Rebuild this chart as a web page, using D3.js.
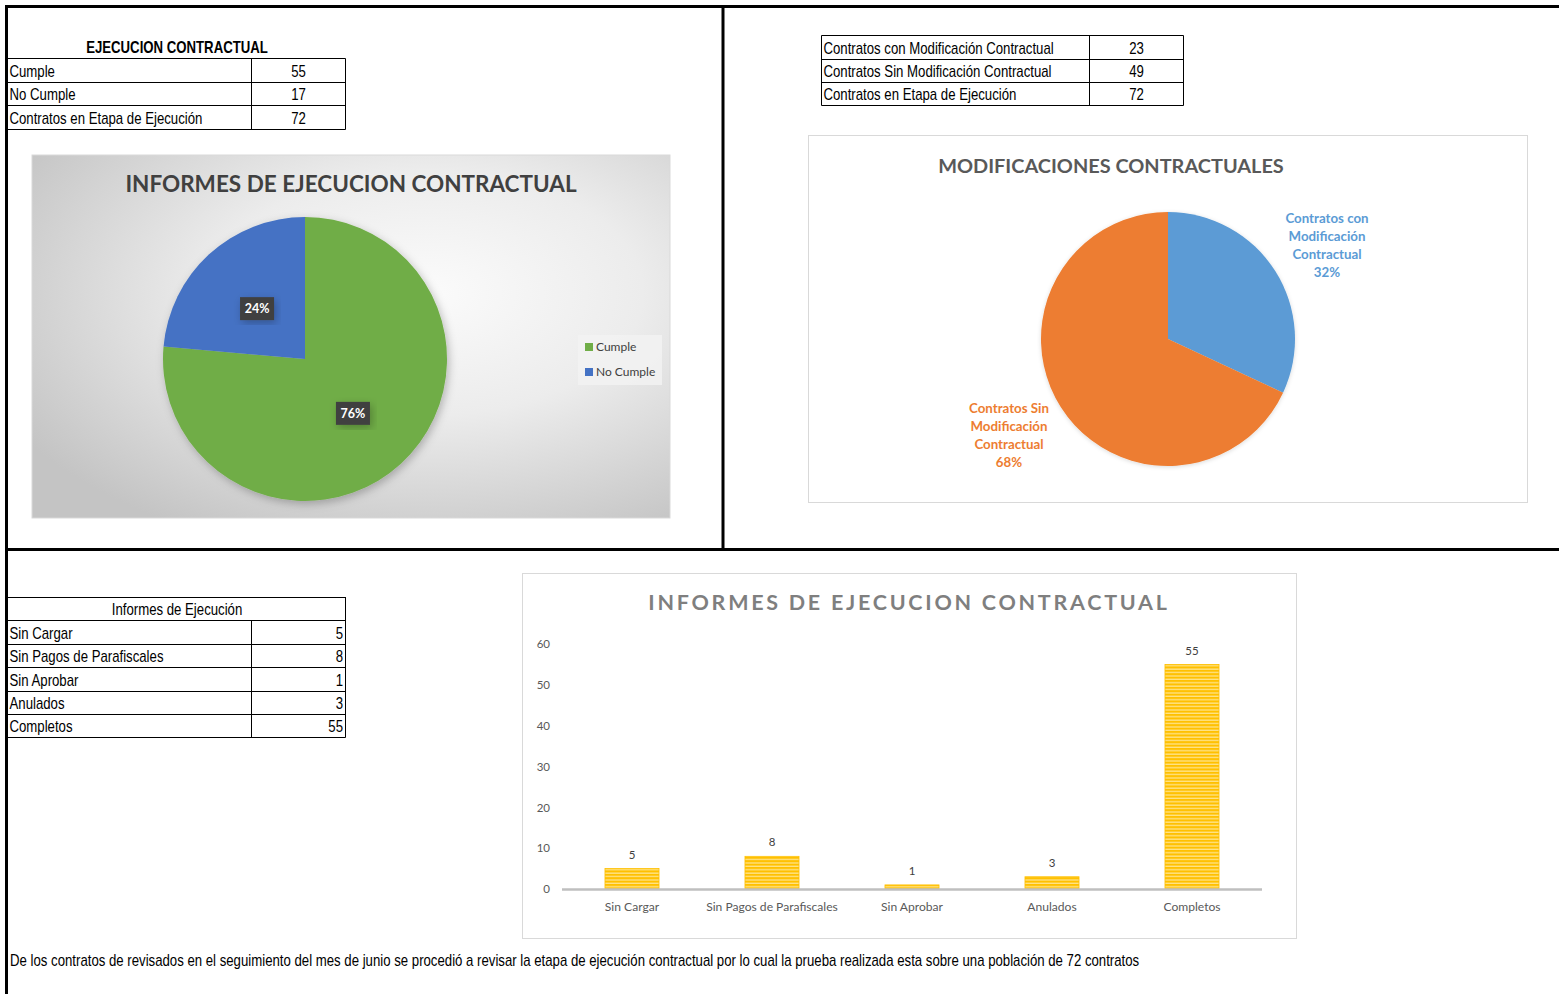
<!DOCTYPE html>
<html>
<head>
<meta charset="utf-8">
<script src="https://cdn.jsdelivr.net/npm/d3@7"></script>
<style>
  html, body { margin: 0; padding: 0; background: #ffffff; }
  svg { display: block; }
  .narrow { font-family: "Liberation Sans", Arial, sans-serif; }
  .cal { font-family: Lato, "Open Sans", "Noto Sans", sans-serif; }
</style>
</head>
<body>
<svg id="page" width="1559" height="994"></svg>
<script>
// ---------------- DATA ----------------
const ejecTitle = "EJECUCION CONTRACTUAL";
const ejecRows = ["Cumple", "No Cumple", "Contratos en Etapa de Ejecución"];
const ejecRowValues = [55, 17, 72];
const ejecLabels = ["Cumple", "No Cumple"];
const ejecValues = [55, 17];

const modRows = ["Contratos con Modificación Contractual", "Contratos Sin Modificación Contractual", "Contratos en Etapa de Ejecución"];
const modRowValues = [23, 49, 72];
const modLabels = [["Contratos con", "Modificación", "Contractual"], ["Contratos Sin", "Modificación", "Contractual"]];
const modValues = [23, 49];

const infTitle = "Informes de Ejecución";
const infCategories = ["Sin Cargar", "Sin Pagos de Parafiscales", "Sin Aprobar", "Anulados", "Completos"];
const infValues = [5, 8, 1, 3, 55];
const yTicks = [0, 10, 20, 30, 40, 50, 60];

const footerText = "De los contratos de revisados en el seguimiento del mes de junio se procedió a revisar la etapa de ejecución contractual por lo cual la prueba realizada esta sobre una población de 72 contratos";

const chartTitle1 = "INFORMES DE EJECUCION CONTRACTUAL";
const chartTitle2 = "MODIFICACIONES CONTRACTUALES";
const chartTitle3 = "INFORMES DE EJECUCION CONTRACTUAL";

// ---------------- PAGE ----------------
const svg = d3.select("#page");
const defs = svg.append("defs");

// condensed text (emulates Arial Narrow)
const NARROW = 0.825, NFS = 16;
function narrowText(g, x, y, str, anchor, bold) {
  return g.append("text").attr("class", "narrow")
    .attr("transform", `translate(${x},${y + 0.5}) scale(${NARROW},1)`)
    .attr("dy", "0.36em").attr("font-size", NFS).attr("fill", "#000")
    .attr("text-anchor", anchor || "start").attr("font-weight", bold ? "bold" : null)
    .text(str);
}

// page frame lines
const frame = svg.append("g").attr("stroke", "#000").attr("stroke-width", 3);
frame.append("line").attr("x1", 5).attr("x2", 1559).attr("y1", 6.5).attr("y2", 6.5);
frame.append("line").attr("x1", 6.5).attr("x2", 6.5).attr("y1", 5).attr("y2", 994);
frame.append("line").attr("x1", 723).attr("x2", 723).attr("y1", 6).attr("y2", 550);
frame.append("line").attr("x1", 6).attr("x2", 1559).attr("y1", 549.5).attr("y2", 549.5);

// ---------------- TABLE helper ----------------
function drawTable(g, x0, x1, xDiv, yRows, rows, values, valueAlign) {
  const t = g.append("g");
  const n = rows.length;
  yRows.forEach(y => t.append("line").attr("x1", x0).attr("x2", x1).attr("y1", y).attr("y2", y)
    .attr("stroke", "#000").attr("stroke-width", 1));
  [x0, xDiv, x1].forEach(x => t.append("line").attr("x1", x).attr("x2", x)
    .attr("y1", yRows[0]).attr("y2", yRows[n]).attr("stroke", "#000").attr("stroke-width", 1));
  rows.forEach((r, i) => {
    const yc = (yRows[i] + yRows[i + 1]) / 2;
    narrowText(t, x0 + 2, yc, r, "start");
    if (valueAlign === "center") narrowText(t, (xDiv + x1) / 2, yc, values[i], "middle");
    else narrowText(t, x1 - 2.5, yc, values[i], "end");
  });
  return t;
}

// Table 1
narrowText(svg, 177, 47, ejecTitle, "middle", true);
drawTable(svg, 7.5, 345.5, 251.5, [58.5, 82.5, 105.5, 129.5], ejecRows, ejecRowValues, "center");

// Table 2
drawTable(svg, 821.5, 1183.5, 1089.5, [35.5, 59.5, 82.5, 105.5], modRows, modRowValues, "center");

// Table 3
svg.append("rect").attr("x", 7.5).attr("y", 597.5).attr("width", 338).attr("height", 23)
  .attr("fill", "none").attr("stroke", "#000");
narrowText(svg, 177, 609, infTitle, "middle");
drawTable(svg, 7.5, 345.5, 251.5, [620.5, 644.5, 667.5, 691.5, 714.5, 737.5], infCategories, infValues, "end");

// ---------------- CHART 1 : pie Cumple / No Cumple ----------------
(function () {
  const bx = 32, by = 155, bw = 638, bh = 363;
  const grad = defs.append("radialGradient").attr("id", "bg1")
    .attr("cx", "62%").attr("cy", "38%").attr("r", "75%");
  grad.append("stop").attr("offset", "0%").attr("stop-color", "#fbfbfb");
  grad.append("stop").attr("offset", "45%").attr("stop-color", "#ececec");
  grad.append("stop").attr("offset", "100%").attr("stop-color", "#c4c4c4");
  svg.append("rect").attr("x", bx).attr("y", by).attr("width", bw).attr("height", bh)
    .attr("fill", "url(#bg1)").attr("stroke", "#d9d9d9").attr("stroke-width", 1);

  svg.append("text").attr("class", "cal").attr("x", 351).attr("y", 184).attr("dy", "0.36em")
    .attr("text-anchor", "middle").attr("font-weight", "bold").attr("font-size", 22.5)
    .attr("fill", "#404040").text(chartTitle1);

  const sh = defs.append("filter").attr("id", "sh1").attr("x", "-20%").attr("y", "-20%").attr("width", "140%").attr("height", "140%");
  sh.append("feDropShadow").attr("dx", 2).attr("dy", 3).attr("stdDeviation", 4).attr("flood-color", "#000").attr("flood-opacity", 0.25);

  const cx = 305, cy = 359, R = 142;
  const colors = d3.scaleOrdinal().domain(ejecLabels).range(["#70AD47", "#4472C4"]);
  const pie = d3.pie().sort(null).value(d => d.v);
  const data = pie(ejecLabels.map((l, i) => ({ l, v: ejecValues[i] })));
  const total = d3.sum(ejecValues);
  const arc = d3.arc().innerRadius(0).outerRadius(R);
  const lblArc = d3.arc().innerRadius(R * 0.5).outerRadius(R * 0.5);
  const g = svg.append("g").attr("transform", `translate(${cx},${cy})`);
  g.append("g").attr("filter", "url(#sh1)").selectAll("path").data(data).join("path")
    .attr("d", arc).attr("fill", d => colors(d.data.l));
  const lg = g.selectAll("g.lbl").data(data).join("g").attr("class", "lbl")
    .attr("transform", d => { const c = lblArc.centroid(d); return `translate(${c[0]},${c[1] + 2})`; });
  lg.append("rect").attr("x", -17).attr("y", -11.5).attr("width", 34).attr("height", 23)
    .attr("fill", "#404040").attr("filter", "url(#sh1)");
  lg.append("text").attr("class", "cal").attr("text-anchor", "middle").attr("dy", "0.36em")
    .attr("font-weight", "bold").attr("font-size", 12.5).attr("fill", "#fff")
    .text(d => Math.round(d.data.v / total * 100) + "%");

  // legend
  const leg = svg.append("g");
  leg.append("rect").attr("x", 578).attr("y", 335).attr("width", 84).attr("height", 50)
    .attr("fill", "#f2f2f2").attr("opacity", 0.85);
  ejecLabels.forEach((l, i) => {
    const y = 347 + i * 25;
    leg.append("rect").attr("x", 585).attr("y", y - 4).attr("width", 8).attr("height", 8).attr("fill", colors(l));
    leg.append("text").attr("class", "cal").attr("x", 596).attr("y", y).attr("dy", "0.36em")
      .attr("font-size", 12).attr("fill", "#404040").text(l);
  });
})();

// ---------------- CHART 2 : pie Modificaciones ----------------
(function () {
  svg.append("rect").attr("x", 808.5).attr("y", 135.5).attr("width", 719).attr("height", 367)
    .attr("fill", "#fff").attr("stroke", "#d9d9d9").attr("stroke-width", 1);
  svg.append("text").attr("class", "cal").attr("x", 1111).attr("y", 166).attr("dy", "0.36em")
    .attr("text-anchor", "middle").attr("font-weight", "bold").attr("font-size", 19.9)
    .attr("fill", "#595959").text(chartTitle2);

  const cx = 1168, cy = 339, R = 127;
  const colors = ["#5B9BD5", "#ED7D31"];
  const pie = d3.pie().sort(null).value(d => d);
  const data = pie(modValues);
  const total = d3.sum(modValues);
  const arc = d3.arc().innerRadius(0).outerRadius(R);
  const lblArc = d3.arc().innerRadius(185).outerRadius(185);
  const g = svg.append("g").attr("transform", `translate(${cx},${cy})`);
  const sh = defs.append("filter").attr("id", "sh2").attr("x", "-20%").attr("y", "-20%").attr("width", "140%").attr("height", "140%");
  sh.append("feDropShadow").attr("dx", 0).attr("dy", 1).attr("stdDeviation", 2).attr("flood-color", "#000").attr("flood-opacity", 0.15);
  g.append("g").attr("filter", "url(#sh2)").selectAll("path").data(data).join("path")
    .attr("d", arc).attr("fill", (d, i) => colors[i]);
  const off = [[3, 6], [-3, -3]];
  data.forEach((d, i) => {
    const c = lblArc.centroid(d);
    const lines = modLabels[i].concat([Math.round(d.value / total * 100) + "%"]);
    const t = g.append("text").attr("class", "cal").attr("text-anchor", "middle")
      .attr("font-weight", "bold").attr("font-size", 13.3).attr("fill", colors[i]);
    lines.forEach((ln, k) => {
      t.append("tspan").attr("x", c[0] + off[i][0]).attr("y", c[1] + off[i][1] + (k - 1.5) * 18)
        .attr("dy", "0.36em").text(ln);
    });
  });
})();

// ---------------- CHART 3 : bars ----------------
(function () {
  svg.append("rect").attr("x", 522.5).attr("y", 573.5).attr("width", 774).attr("height", 365)
    .attr("fill", "#fff").attr("stroke", "#d9d9d9").attr("stroke-width", 1);
  svg.append("text").attr("class", "cal").attr("x", 909).attr("y", 602).attr("dy", "0.36em")
    .attr("text-anchor", "middle").attr("font-weight", "bold").attr("font-size", 21.5)
    .attr("letter-spacing", 2.73).attr("fill", "#7f7f7f").text(chartTitle3);

  const pat = defs.append("pattern").attr("id", "stripe").attr("patternUnits", "userSpaceOnUse")
    .attr("width", 8).attr("height", 3.4);
  pat.append("rect").attr("width", 8).attr("height", 3.4).attr("fill", "#FFC000");
  pat.append("rect").attr("y", 2.1).attr("width", 8).attr("height", 1.3).attr("fill", "#FFE48A");

  const x = d3.scaleBand().domain(infCategories).range([562, 1262]).paddingInner(0.614).paddingOuter(0.307);
  const y = d3.scaleLinear().domain([0, 60]).range([889, 644]);

  const yAxis = d3.axisLeft(y).tickValues(yTicks).tickSize(0).tickPadding(0);
  const ya = svg.append("g").attr("transform", "translate(550,0)").call(yAxis);
  ya.select(".domain").remove();
  ya.selectAll("text").attr("font-size", 11.5).attr("fill", "#595959")
    .style("font-family", "Lato, 'Open Sans', sans-serif");

  svg.append("g").selectAll("rect").data(infValues).join("rect")
    .attr("x", (d, i) => x(infCategories[i]))
    .attr("width", x.bandwidth())
    .attr("y", d => y(d))
    .attr("height", d => y(0) - y(d))
    .attr("fill", "url(#stripe)")
    .attr("stroke", "#FFC000").attr("stroke-width", 0.8);

  svg.append("line").attr("x1", 562).attr("x2", 1262).attr("y1", y(0) + 0.5).attr("y2", y(0) + 0.5)
    .attr("stroke", "#bfbfbf").attr("stroke-width", 2.5);

  svg.append("g").selectAll("text").data(infValues).join("text").attr("class", "cal")
    .attr("x", (d, i) => x(infCategories[i]) + x.bandwidth() / 2)
    .attr("y", d => y(d) - 14).attr("dy", "0.36em").attr("text-anchor", "middle")
    .attr("font-size", 11.5).attr("fill", "#404040").text(d => d);

  const xAxis = d3.axisBottom(x).tickSize(0).tickPadding(0);
  const xa = svg.append("g").attr("transform", "translate(0,902)").call(xAxis);
  xa.select(".domain").remove();
  xa.selectAll("text").attr("font-size", 12.1).attr("fill", "#595959")
    .style("font-family", "Lato, 'Open Sans', sans-serif");
})();

// ---------------- FOOTER ----------------
narrowText(svg, 10, 960, footerText, "start");
</script>
</body>
</html>
